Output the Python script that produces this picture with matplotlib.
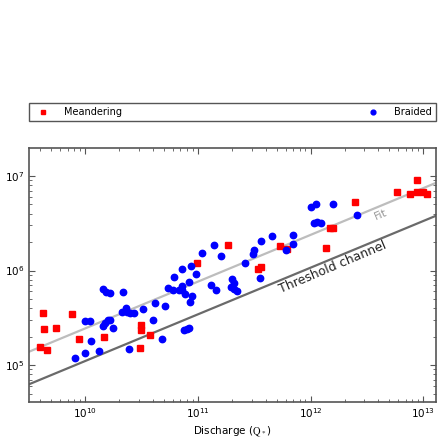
import matplotlib
matplotlib.use("Agg")
import matplotlib.pyplot as plt
import numpy as np

# log10 values
mea_logq = [9.60, 9.63, 9.64, 9.66, 9.74, 9.88, 9.95, 10.17, 10.49, 10.50, 10.50, 10.58,
            10.99, 11.27, 11.53, 11.56, 11.73, 11.79, 12.14, 12.17, 12.20, 12.39,
            12.77, 12.88, 12.94, 12.94, 13.00, 13.03]
mea_logw = [5.19, 5.55, 5.38, 5.16, 5.39, 5.54, 5.28, 5.30, 5.18, 5.42, 5.37, 5.32,
            6.08, 6.27, 6.02, 6.04, 6.26, 6.23, 6.24, 6.45, 6.45, 6.73,
            6.83, 6.81, 6.96, 6.83, 6.83, 6.81]

bra_logq = [9.91, 10.00, 10.05, 10.12, 10.00, 10.04, 10.16, 10.19, 10.22, 10.34,
            10.16, 10.18, 10.20, 10.22, 10.25, 10.33, 10.36, 10.37, 10.40, 10.43,
            10.39, 10.51, 10.62, 10.60, 10.71, 10.68, 10.88, 10.90, 10.92, 10.74,
            10.78, 10.83, 10.86, 10.86, 10.89, 10.95, 10.93, 10.79, 10.86, 10.92,
            10.94, 10.98, 11.04, 11.14, 11.21, 11.12, 11.16, 11.30, 11.32, 11.29,
            11.32, 11.35, 11.42, 11.49, 11.50, 11.56, 11.66, 11.55, 11.78, 11.84,
            11.84, 12.00, 12.05, 12.20, 12.03, 12.06, 12.09, 12.41]
bra_logw = [5.07, 5.13, 5.25, 5.15, 5.47, 5.47, 5.80, 5.77, 5.76, 5.77,
            5.41, 5.44, 5.48, 5.48, 5.39, 5.56, 5.60, 5.56, 5.55, 5.55,
            5.17, 5.59, 5.66, 5.48, 5.62, 5.28, 5.37, 5.38, 5.39, 5.82,
            5.79, 5.79, 5.79, 5.84, 5.75, 5.73, 5.67, 5.93, 6.02, 5.88,
            6.05, 5.96, 6.19, 6.27, 6.15, 5.85, 5.79, 5.91, 5.87, 5.83,
            5.80, 5.78, 6.08, 6.17, 6.22, 6.31, 6.37, 5.92, 6.22, 6.28,
            6.38, 6.67, 6.70, 6.70, 6.50, 6.51, 6.50, 6.59]

# power laws W = a * (Q / 1e10) ** b
fit_a, fit_b = 10 ** 5.387, 0.495
thr_a, thr_b = 10 ** 5.042, 0.494

xlim = (10 ** 9.503, 10 ** 13.11)
ylim = (10 ** 4.612, 10 ** 7.296)

fig = plt.figure(figsize=(4.47, 4.48), dpi=100)
ax = fig.add_axes([0.0649, 0.1033, 0.9099, 0.5663])

q = np.logspace(np.log10(xlim[0]), np.log10(xlim[1]), 50)
ax.plot(q, fit_a * (q / 1e10) ** fit_b, color='#bdbdbd', lw=1.6, zorder=1)
ax.plot(q, thr_a * (q / 1e10) ** thr_b, color='#6a6a6a', lw=1.6, zorder=1)

ax.plot(10 ** np.array(mea_logq), 10 ** np.array(mea_logw), 's', color='red',
        mec='red', ms=4.6, label='Meandering', zorder=3)
ax.plot(10 ** np.array(bra_logq), 10 ** np.array(bra_logw), 'o', color='blue',
        mec='blue', ms=4.6, label='Braided', zorder=3)

ax.set_xscale('log')
ax.set_yscale('log')
ax.set_xlim(*xlim)
ax.set_ylim(*ylim)

ax.text(10 ** 12.20, 10 ** 6.03, 'Threshold channel', rotation=23, fontsize=9,
        color='#222222', ha='center', va='center', rotation_mode='anchor')
ax.text(10 ** 12.62, 10 ** 6.59, 'Fit', rotation=23, fontsize=8,
        color='#999999', ha='center', va='center', rotation_mode='anchor')

ax.tick_params(which='both', direction='in', top=True, right=True, labelsize=7.5,
               colors='#555555', labelcolor='black')
ax.tick_params(which='major', length=4, width=0.8)
ax.tick_params(which='minor', length=2, width=0.6)
for s in ax.spines.values():
    s.set_color('#555555')
    s.set_linewidth(1.2)

ax.set_xlabel(r'Discharge ($\mathrm{Q}_*$)', fontsize=7.5, math_fontfamily='stix', labelpad=3)
ax.set_ylabel(r'Width ($\mathrm{W}_*$)', fontsize=7.5, math_fontfamily='stix')

leg = ax.legend(loc='lower left', bbox_to_anchor=(0, 1.106, 1, 0.079), mode='expand',
                ncol=2, borderaxespad=0, fancybox=False, numpoints=1, fontsize=7,
                markerscale=0.75, handletextpad=1.2, framealpha=1)
leg.get_frame().set_edgecolor('#555555')
leg.get_frame().set_linewidth(1.0)

fig.savefig('out.png', dpi=100)
